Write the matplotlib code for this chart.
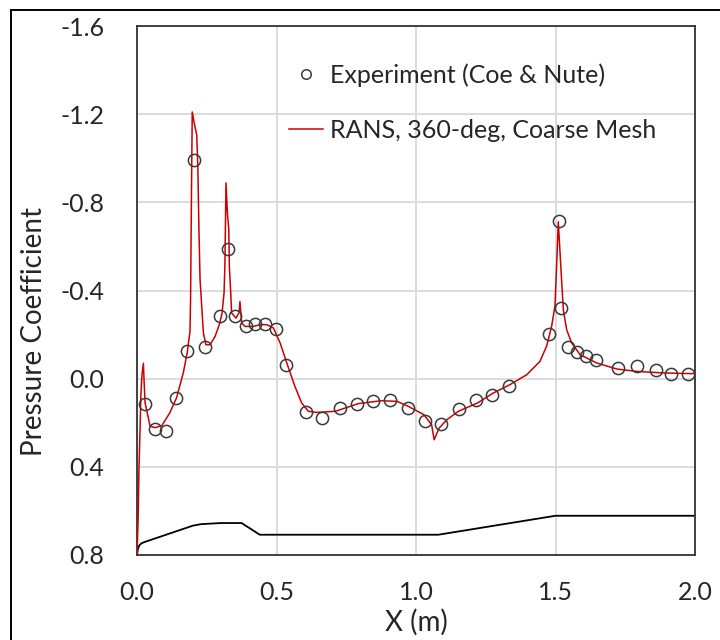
import matplotlib
matplotlib.use("Agg")
import matplotlib.pyplot as plt
from matplotlib.lines import Line2D

plt.rcParams['font.family'] = ['Lato', 'DejaVu Sans']

# Experimental data (Coe & Nute)
exp_x = [0.029, 0.065, 0.104, 0.140, 0.179, 0.204, 0.244, 0.297, 0.326, 0.351,
         0.391, 0.423, 0.459, 0.498, 0.534, 0.606, 0.663, 0.728, 0.789, 0.846,
         0.907, 0.971, 1.032, 1.090, 1.154, 1.215, 1.272, 1.333, 1.477, 1.513,
         1.520, 1.545, 1.577, 1.609, 1.645, 1.724, 1.792, 1.860, 1.914, 1.975]
exp_cp = [0.113, 0.227, 0.236, 0.086, -0.127, -0.994, -0.145, -0.286, -0.590, -0.286,
          -0.240, -0.250, -0.250, -0.227, -0.064, 0.150, 0.177, 0.132, 0.113, 0.100,
          0.095, 0.132, 0.190, 0.204, 0.136, 0.095, 0.073, 0.032, -0.204, -0.717,
          -0.322, -0.145, -0.122, -0.104, -0.086, -0.050, -0.059, -0.041, -0.023, -0.023]

# RANS 360-deg coarse mesh
rans_x = [0.000, 0.004, 0.007, 0.011, 0.014, 0.018, 0.023, 0.025, 0.029, 0.047,
          0.065, 0.089, 0.118, 0.142, 0.166, 0.180, 0.190, 0.192, 0.195, 0.198,
          0.205, 0.214, 0.218, 0.222, 0.226, 0.238, 0.247, 0.262, 0.280, 0.295,
          0.305, 0.312, 0.315, 0.319, 0.324, 0.329, 0.331, 0.336, 0.339, 0.355,
          0.366, 0.369, 0.375, 0.387, 0.417, 0.441, 0.465, 0.489, 0.513, 0.537,
          0.566, 0.590, 0.614, 0.644, 0.711, 0.794, 0.876, 0.932, 0.973, 1.028,
          1.056, 1.065, 1.083, 1.111, 1.152, 1.221, 1.277, 1.337, 1.397, 1.444,
          1.468, 1.486, 1.498, 1.504, 1.510, 1.519, 1.528, 1.540, 1.558, 1.588,
          1.648, 1.719, 1.791, 1.886, 1.982, 2.000]
rans_cp = [0.800, 0.640, 0.410, 0.230, 0.070, -0.020, -0.070, 0.000, 0.110, 0.216,
           0.222, 0.213, 0.154, 0.086, -0.027, -0.118, -0.215, -0.360, -0.810, -1.210,
           -1.160, -1.107, -0.963, -0.676, -0.449, -0.207, -0.154, -0.154, -0.192, -0.245,
           -0.298, -0.389, -0.510, -0.888, -0.752, -0.676, -0.510, -0.389, -0.298, -0.275,
           -0.300, -0.350, -0.253, -0.237, -0.237, -0.245, -0.245, -0.230, -0.162, -0.071,
           0.035, 0.110, 0.148, 0.153, 0.148, 0.113, 0.100, 0.103, 0.126, 0.163,
           0.209, 0.277, 0.224, 0.186, 0.148, 0.110, 0.065, 0.027, -0.018, -0.078,
           -0.147, -0.237, -0.328, -0.510, -0.712, -0.510, -0.313, -0.222, -0.162, -0.109,
           -0.071, -0.044, -0.033, -0.026, -0.023, -0.023]

# body profile (no legend entry)
geom_x = [0.000, 0.003, 0.008, 0.015, 0.025, 0.200, 0.230, 0.300, 0.375, 0.440,
          1.080, 1.500, 2.000]
geom_y = [0.800, 0.775, 0.757, 0.748, 0.742, 0.667, 0.660, 0.655, 0.655, 0.708,
          0.708, 0.622, 0.622]

fig = plt.figure(figsize=(7.2, 6.4), dpi=100)
ax = fig.add_axes([137 / 720, 1 - 555 / 640, 558 / 720, 529 / 640])

# outer chart frame, only left and top edges fall inside the picture
fig.add_artist(Line2D([11 / 720, 11 / 720], [0, 1 - 10 / 640], transform=fig.transFigure,
                      color='black', linewidth=1.4))
fig.add_artist(Line2D([11 / 720, 1], [1 - 10 / 640, 1 - 10 / 640], transform=fig.transFigure,
                      color='black', linewidth=1.4))

ax.plot(geom_x, geom_y, color='black', linewidth=1.3, zorder=2)
ax.plot(rans_x, rans_cp, color='#cc0000', linewidth=1.1, zorder=3,
        label='RANS, 360-deg, Coarse Mesh')
ax.plot(exp_x, exp_cp, linestyle='none', marker='o', markersize=8.8,
        markerfacecolor='none', markeredgecolor='#3a3a3a', markeredgewidth=1.1,
        zorder=4, label='Experiment (Coe & Nute)')

ax.set_xlim(0, 2.0)
ax.set_ylim(0.8, -1.6)
ax.set_xticks([0.0, 0.5, 1.0, 1.5, 2.0])
ax.set_yticks([-1.6, -1.2, -0.8, -0.4, 0.0, 0.4, 0.8])
ax.set_xticklabels(['0.0', '0.5', '1.0', '1.5', '2.0'])
ax.set_yticklabels(['-1.6', '-1.2', '-0.8', '-0.4', '0.0', '0.4', '0.8'])
ax.grid(True, color='#d9d9d9', linewidth=1.3)
ax.set_axisbelow(True)
ax.tick_params(axis='both', length=0, labelsize=18, colors='#262626')
ax.tick_params(axis='y', pad=23.5)
ax.tick_params(axis='x', pad=19)
for s in ax.spines.values():
    s.set_color('#333333')
    s.set_linewidth(1.3)

ax.set_xlabel('X (m)', fontsize=20, color='#262626', va='center')
ax.set_ylabel('Pressure Coefficient', fontsize=20, color='#262626', va='center')
ax.xaxis.set_label_coords(0.5, -0.127)
ax.yaxis.set_label_coords(-0.184, 0.4225)

h, l = ax.get_legend_handles_labels()
leg = ax.legend(h[::-1], l[::-1], loc='upper left', bbox_to_anchor=(0.2724, 0.930),
                frameon=False, fontsize=18, labelspacing=1.3, handlelength=1.36,
                handletextpad=0.28, markerscale=0.78, borderaxespad=0, borderpad=0)
for t in leg.get_texts():
    t.set_color('#262626')

fig.savefig('out.png', dpi=100)
